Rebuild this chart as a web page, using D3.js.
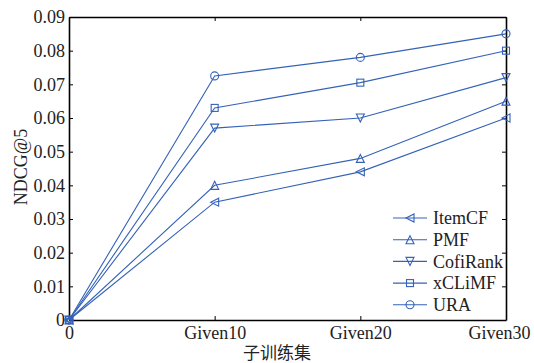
<!DOCTYPE html>
<html>
<head>
<meta charset="utf-8">
<script src="https://cdn.jsdelivr.net/npm/d3@7"></script>
<style>
  body { margin: 0; background: #fff; }
  text { font-family: "Liberation Serif", "Times New Roman", serif; fill: #222; }
</style>
</head>
<body>
<script>
// chart values
const categories = ["0", "Given10", "Given20", "Given30"];
const seriesNames = ["ItemCF", "PMF", "CofiRank", "xCLiMF", "URA"];
const itemcf   = [0, 0.035, 0.044, 0.060];
const pmf      = [0, 0.040, 0.048, 0.065];
const cofirank = [0, 0.057, 0.060, 0.072];
const xclimf   = [0, 0.063, 0.0705, 0.080];
const ura      = [0, 0.0725, 0.078, 0.085];
const yTicks = [0, 0.01, 0.02, 0.03, 0.04, 0.05, 0.06, 0.07, 0.08, 0.09];
const yTickLabels = ["0", "0.01", "0.02", "0.03", "0.04", "0.05", "0.06", "0.07", "0.08", "0.09"];

const seriesValues = [itemcf, pmf, cofirank, xclimf, ura];
const markers = ["left", "up", "down", "square", "circle"];

const W = 534, H = 363;
const margin = { top: 17, right: 28, bottom: 43, left: 69 };
const width = W - margin.left - margin.right;
const height = H - margin.top - margin.bottom;
const blue = "#3462b8";
const serif = "'Liberation Serif', 'Times New Roman', serif";

const svg = d3.select("body").append("svg")
    .attr("width", W)
    .attr("height", H);

const g = svg.append("g")
    .attr("transform", "translate(" + margin.left + "," + margin.top + ")");

const x = d3.scalePoint().domain(categories).range([0, width]);
const y = d3.scaleLinear().domain([0, 0.09]).range([height, 0]);

// axes: ticks point inward, box on all sides
const fmt = (d, i) => yTickLabels[i];
const xAxis = g.append("g")
    .attr("transform", "translate(0," + height + ")")
    .call(d3.axisBottom(x).tickSizeInner(-4).tickSizeOuter(0).tickPadding(6));
// last label sits a bit left so it stays inside the page
xAxis.selectAll(".tick text").filter(d => d === "Given30").attr("dx", -7);
g.append("g")
    .call(d3.axisTop(x).tickSizeInner(-4).tickSizeOuter(0).tickFormat(""));
g.append("g")
    .call(d3.axisLeft(y).tickValues(yTicks).tickFormat(fmt).tickSizeInner(-4).tickSizeOuter(0).tickPadding(4));
g.append("g")
    .attr("transform", "translate(" + width + ",0)")
    .call(d3.axisRight(y).tickValues(yTicks).tickFormat("").tickSizeInner(-4).tickSizeOuter(0));
g.selectAll(".domain").attr("stroke", "#000").attr("stroke-width", 1.6);
g.selectAll(".tick line").attr("stroke", "#000");
g.selectAll(".tick text")
    .attr("fill", "#222")
    .attr("font-family", serif)
    .style("font-family", serif)
    .style("font-size", "18px");

// marker drawing
function drawMarker(sel, type, cx, cy) {
    const s = 4;
    if (type === "circle") {
        sel.append("circle").attr("cx", cx).attr("cy", cy).attr("r", s);
    } else if (type === "square") {
        sel.append("rect").attr("x", cx - 3.5).attr("y", cy - 3.5).attr("width", 7).attr("height", 7);
    } else {
        let pts;
        if (type === "left") pts = [[cx - s, cy], [cx + s, cy - s], [cx + s, cy + s]];
        if (type === "up") pts = [[cx, cy - s], [cx + s, cy + s], [cx - s, cy + s]];
        if (type === "down") pts = [[cx, cy + s], [cx + s, cy - s], [cx - s, cy - s]];
        sel.append("polygon").attr("points", pts.map(p => p.join(",")).join(" "));
    }
}

const line = d3.line()
    .x((d, i) => x(categories[i]))
    .y(d => y(d));

seriesValues.forEach((vals, k) => {
    const sg = g.append("g");
    sg.append("path")
        .attr("d", line(vals))
        .attr("fill", "none")
        .attr("stroke", blue)
        .attr("stroke-width", 1.1);
    const mg = sg.append("g").attr("fill", "none").attr("stroke", blue).attr("stroke-width", 1.1);
    vals.forEach((v, i) => drawMarker(mg, markers[k], x(categories[i]), y(v)));
});

// legend
const legend = g.append("g").attr("transform", "translate(" + (width - 113) + "," + (height - 102) + ")");
seriesNames.forEach((name, k) => {
    const row = legend.append("g").attr("transform", "translate(0," + (k * 21.7) + ")");
    row.append("line").attr("x1", 0).attr("x2", 34).attr("y1", 0).attr("y2", 0)
        .attr("stroke", blue).attr("stroke-width", 1.1);
    const mg = row.append("g").attr("fill", "none").attr("stroke", blue).attr("stroke-width", 1.1);
    drawMarker(mg, markers[k], 17, 0);
    row.append("text").attr("x", 40).attr("y", 0).attr("dy", "0.35em")
        .style("font-family", serif)
        .style("font-size", "18px").text(name);
});

// axis titles
svg.append("text")
    .attr("transform", "translate(27,167) rotate(-90)")
    .attr("text-anchor", "middle")
    .style("font-family", serif)
    .style("font-size", "18px")
    .text("NDCG@5");
svg.append("text")
    .attr("x", 277).attr("y", 359)
    .attr("text-anchor", "middle")
    .style("font-family", "'Noto Sans CJK SC', sans-serif")
    .style("font-size", "17px")
    .text("子训练集");
</script>
</body>
</html>
